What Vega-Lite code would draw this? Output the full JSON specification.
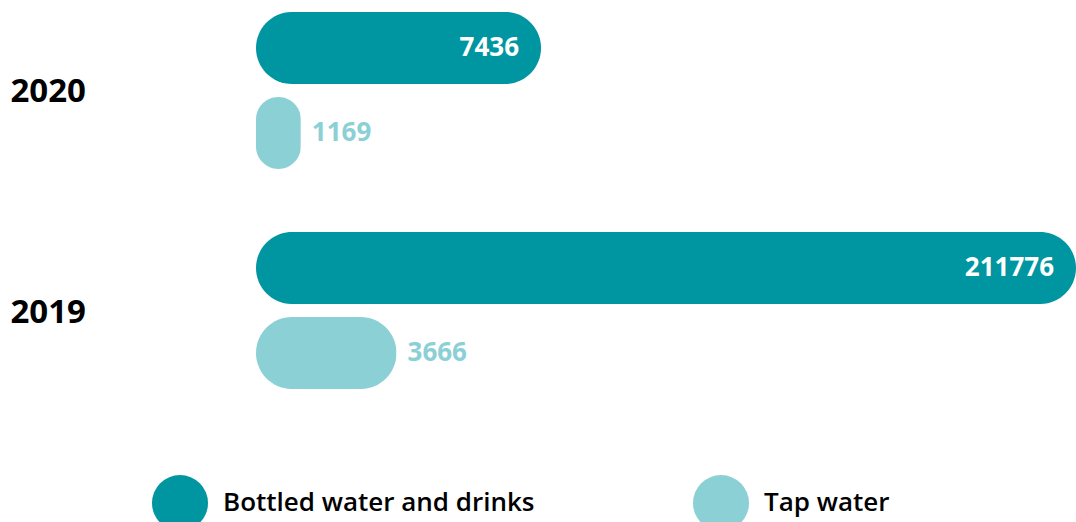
{
  "$schema": "https://vega.github.io/schema/vega-lite/v6.json",
  "autosize": "none",
  "width": 820,
  "height": 401,
  "padding": {"left": 256, "top": 0, "right": 0, "bottom": 121},
  "background": "white",
  "config": {"font": "Open Sans", "view": {"stroke": null}},
  "data": {
    "values": [
      {"year": "2020", "type": "Bottled water and drinks", "value": 7436},
      {"year": "2020", "type": "Tap water", "value": 1169},
      {"year": "2019", "type": "Bottled water and drinks", "value": 211776},
      {"year": "2019", "type": "Tap water", "value": 3666}
    ]
  },
  "encoding": {
    "y": {
      "field": "year",
      "type": "nominal",
      "sort": ["2020", "2019"],
      "scale": {"paddingInner": 0.2864, "paddingOuter": 0.0545},
      "axis": {
        "title": null,
        "domain": false,
        "ticks": false,
        "labelAlign": "left",
        "labelPadding": 246,
        "labelFontSize": 33,
        "labelFontWeight": "bold",
        "labelColor": "#000000",
        "labelOffset": 2
      }
    },
    "yOffset": {
      "field": "type",
      "type": "nominal",
      "sort": ["Bottled water and drinks", "Tap water"],
      "scale": {"paddingInner": 0.153, "paddingOuter": 0}
    },
    "x": {
      "field": "value",
      "type": "quantitative",
      "scale": {"domain": [0, 21394], "clamp": true, "nice": false},
      "axis": null
    }
  },
  "layer": [
    {
      "mark": {"type": "bar", "cornerRadius": 36},
      "encoding": {
        "color": {
          "field": "type",
          "type": "nominal",
          "scale": {
            "domain": ["Bottled water and drinks", "Tap water"],
            "range": ["#0096A1", "#8BD0D5"]
          },
          "legend": {
            "title": null,
            "orient": "none",
            "legendX": -104,
            "legendY": 475,
            "direction": "horizontal",
            "symbolType": "circle",
            "symbolSize": 3136,
            "symbolStrokeWidth": 0,
            "labelFontSize": 26,
            "labelFontWeight": 600,
            "labelColor": "#000000",
            "labelOffset": 15,
            "labelLimit": 600,
            "columnPadding": 158
          }
        }
      }
    },
    {
      "transform": [{"filter": "datum.type === 'Bottled water and drinks'"}],
      "mark": {"type": "text", "align": "right", "baseline": "middle", "dx": -22, "color": "#FFFFFF", "fontSize": 26, "fontWeight": "bold"},
      "encoding": {"text": {"field": "value", "type": "quantitative", "format": "d"}}
    },
    {
      "transform": [{"filter": "datum.type === 'Tap water'"}],
      "mark": {"type": "text", "align": "left", "baseline": "middle", "dx": 11, "color": "#8BD0D5", "fontSize": 26, "fontWeight": "bold"},
      "encoding": {"text": {"field": "value", "type": "quantitative", "format": "d"}}
    }
  ]
}
